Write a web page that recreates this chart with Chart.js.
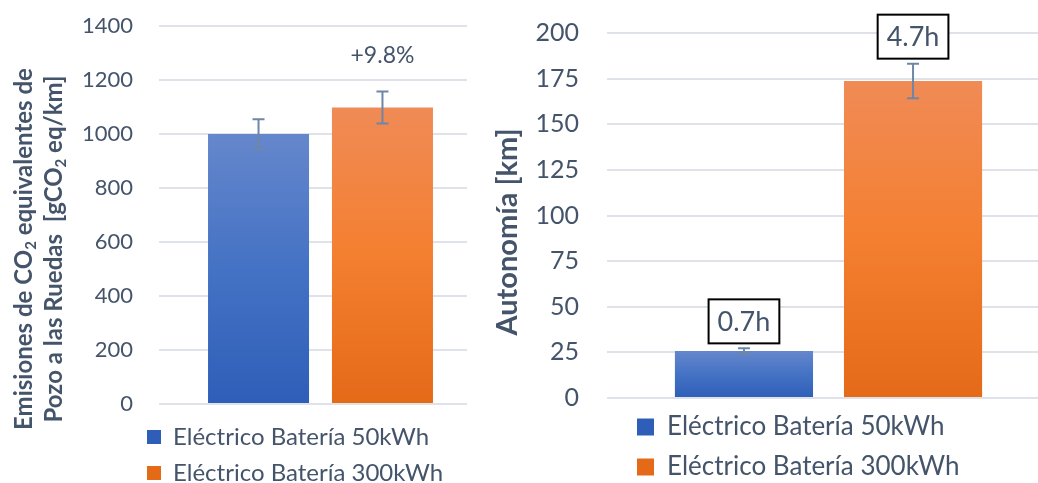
<!DOCTYPE html>
<html>
<head>
<meta charset="utf-8">
<script src="https://cdn.jsdelivr.net/npm/chart.js@4.4.1/dist/chart.umd.min.js"></script>
<style>
  body { margin: 0; background: #fff; }
  #wrap { position: relative; width: 1038px; height: 483px; }
  canvas { position: absolute; top: 0; }
</style>
</head>
<body>
<div id="wrap">
  <canvas id="emisiones" width="480" height="483" style="left:0"></canvas>
  <canvas id="autonomia" width="558" height="483" style="left:480px"></canvas>
</div>
<script>
// Data
const categories = [''];
const seriesNames = ['Eléctrico Batería 50kWh', 'Eléctrico Batería 300kWh'];

const emisionesValues = [1000, 1098];
const emisionesErrors = [55, 59];
const emisionesNotes = ['', '+9.8%'];
const emisionesTitle = [
    ['Emisiones de CO', '2', ' equivalentes de'],
    ['Pozo a las Ruedas  [gCO', '2', ' eq/km]']
];

const autonomiaValues = [25.8, 173.7];
const autonomiaErrors = [1.4, 9.5];
const autonomiaNotes = ['0.7h', '4.7h'];
const autonomiaTitle = [['Autonomía [km]']];

const textColor = '#44546a';
const gridColor = '#dfe3e9';
const errorColor = '#6f86a6';
const FONT = 'Lato, "Open Sans", sans-serif';

// blue and orange gradient fills (top, middle, bottom)
const fills = [
    ['#6587cc', '#4472c4', '#2e5eb8'],
    ['#f08b56', '#f47f30', '#e46a18']
];

function barGradient(stops) {
    return function (c) {
        const chart = c.chart;
        if (!chart.chartArea || !c.parsed) return stops[1];
        const yScale = chart.scales.y;
        const top = yScale.getPixelForValue(c.parsed.y);
        const bottom = yScale.getPixelForValue(0);
        if (!(bottom > top)) return stops[1];
        const g = chart.ctx.createLinearGradient(0, top, 0, bottom);
        g.addColorStop(0, stops[0]);
        g.addColorStop(0.5, stops[1]);
        g.addColorStop(1, stops[2]);
        return g;
    };
}

function buildDatasets(values, errors, notes) {
    return seriesNames.map((name, i) => ({
        label: name,
        data: [values[i]],
        error: errors[i],
        note: notes[i],
        backgroundColor: barGradient(fills[i]),
        borderWidth: 0
    }));
}

// Rotated axis title, with small lowered "2" for the subscript parts
const axisTitle = {
    id: 'axisTitle',
    afterDraw(chart, args, opts) {
        const ctx = chart.ctx;
        ctx.save();
        ctx.fillStyle = textColor;
        ctx.textBaseline = 'middle';
        const big = 'bold ' + opts.size + 'px ' + FONT;
        const small = 'bold ' + Math.round(opts.size * 0.62) + 'px ' + FONT;
        opts.lines.forEach((parts, i) => {
            let total = 0;
            parts.forEach((p, k) => {
                ctx.font = k % 2 ? small : big;
                total += ctx.measureText(p).width;
            });
            ctx.save();
            ctx.translate(opts.x[i], opts.y);
            ctx.rotate(-Math.PI / 2);
            let pos = -total / 2;
            parts.forEach((p, k) => {
                ctx.font = k % 2 ? small : big;
                ctx.fillText(p, pos, k % 2 ? opts.size * 0.3 : 0);
                pos += ctx.measureText(p).width;
            });
            ctx.restore();
        });
        ctx.restore();
    }
};

// Error bars and the note above each bar
const barExtras = {
    id: 'barExtras',
    afterDatasetsDraw(chart, args, opts) {
        const ctx = chart.ctx;
        const yScale = chart.scales.y;
        ctx.save();
        chart.data.datasets.forEach((ds, i) => {
            const bar = chart.getDatasetMeta(i).data[0];
            const v = ds.data[0];
            const top = yScale.getPixelForValue(v + ds.error);
            const bottom = yScale.getPixelForValue(v - ds.error);
            const x = bar.x;

            ctx.strokeStyle = errorColor;
            ctx.lineWidth = 2;
            ctx.beginPath();
            ctx.moveTo(x, top); ctx.lineTo(x, bottom);
            ctx.moveTo(x - 6, top); ctx.lineTo(x + 6, top);
            ctx.moveTo(x - 6, bottom); ctx.lineTo(x + 6, bottom);
            ctx.stroke();

            if (!ds.note) return;
            ctx.font = opts.size + 'px ' + FONT;
            ctx.textAlign = 'center';
            ctx.textBaseline = 'middle';
            const cy = top - opts.gap;
            if (opts.boxed) {
                const w = ctx.measureText(ds.note).width + 18;
                const h = 44;
                ctx.fillStyle = '#fff';
                ctx.fillRect(x - w / 2, cy - h / 2, w, h);
                ctx.strokeStyle = '#000';
                ctx.lineWidth = 2;
                ctx.strokeRect(x - w / 2, cy - h / 2, w, h);
            }
            ctx.fillStyle = textColor;
            ctx.fillText(ds.note, x, cy + 1);
        });
        ctx.restore();
    }
};

// Put the legend where it sits in the picture
const legendSpot = {
    id: 'legendSpot',
    afterLayout(chart, args, opts) {
        const lg = chart.legend;
        if (!lg) return;
        lg.left = opts.x;
        lg.top = opts.y;
        lg.right = chart.width;
        lg.bottom = opts.y + 1000;
    }
};

function makeChart(id, cfg) {
    return new Chart(document.getElementById(id), {
        type: 'bar',
        data: { labels: categories, datasets: cfg.datasets },
        options: {
            responsive: false,
            animation: false,
            devicePixelRatio: 1,
            layout: { padding: cfg.padding },
            datasets: { bar: { categoryPercentage: cfg.catPct, barPercentage: cfg.barPct } },
            scales: {
                x: { display: false },
                y: {
                    min: 0,
                    max: cfg.max,
                    ticks: {
                        stepSize: cfg.step,
                        padding: cfg.tickPad,
                        color: textColor,
                        font: { family: FONT, size: cfg.tickSize },
                        callback: v => String(v)
                    },
                    grid: { color: gridColor, lineWidth: 2, drawTicks: true, tickLength: cfg.tickLen },
                    border: { display: false },
                    afterFit: s => {
                        s.width = cfg.axisWidth;
                        s.paddingTop = 0;
                        s.paddingBottom = 0;
                    }
                }
            },
            plugins: {
                tooltip: { enabled: false },
                legend: {
                    position: 'chartArea',
                    align: 'start',
                    labels: {
                        color: textColor,
                        boxWidth: cfg.legendBox,
                        boxHeight: cfg.legendBox,
                        padding: cfg.legendPad,
                        font: { family: FONT, size: cfg.legendSize }
                    }
                },
                legendSpot: cfg.legendSpot,
                axisTitle: cfg.title,
                barExtras: cfg.notes
            }
        },
        plugins: [legendSpot, axisTitle, barExtras]
    });
}

makeChart('emisiones', {
    datasets: buildDatasets(emisionesValues, emisionesErrors, emisionesNotes),
    padding: { top: 26, right: 13, bottom: 79, left: 0 },
    catPct: 0.846, barPct: 0.815,
    max: 1400, step: 200,
    tickPad: 26, tickLen: 15, tickSize: 22, axisWidth: 174,
    legendBox: 14, legendPad: 12, legendSize: 24,
    legendSpot: { x: 135, y: 413 },
    title: { lines: emisionesTitle, x: [24, 54], y: 249, size: 24 },
    notes: { gap: 37, size: 23, boxed: false }
});

makeChart('autonomia', {
    datasets: buildDatasets(autonomiaValues, autonomiaErrors, autonomiaNotes),
    padding: { top: 33, right: 0, bottom: 85, left: 0 },
    catPct: 0.807, barPct: 0.817,
    max: 200, step: 25,
    tickPad: 28, tickLen: 12, tickSize: 25, axisWidth: 139,
    legendBox: 17, legendPad: 14, legendSize: 26,
    legendSpot: { x: 143, y: 400 },
    title: { lines: autonomiaTitle, x: [28], y: 232, size: 29 },
    notes: { gap: 27, size: 27, boxed: true }
});
</script>
</body>
</html>
